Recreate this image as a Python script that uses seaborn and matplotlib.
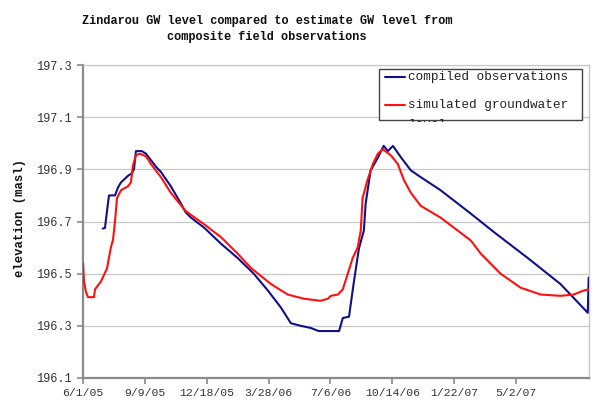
import matplotlib
matplotlib.use("Agg")
import matplotlib.pyplot as plt
from matplotlib.patches import Rectangle
from matplotlib.lines import Line2D
from matplotlib.transforms import Bbox
import seaborn as sns
import pandas as pd

# ---- data ----
start_date = "2005-06-01"

obs_day = [32, 35.5, 38.8, 42, 51.7, 56.5, 61.4, 72.7, 79, 82.4, 85.6, 95, 101.8, 109.9,
           118, 126, 142, 158, 166, 174.5, 195.5, 223, 250, 276, 299, 320, 336, 352, 368,
           381, 414, 420, 430, 438, 446, 454, 457, 465, 477, 486, 493, 501, 514, 530, 546,
           578, 627, 664, 719, 772, 816, 817.5]
obs_level = [196.673, 196.675, 196.74, 196.80, 196.80, 196.83, 196.85, 196.875, 196.885,
             196.90, 196.97, 196.97, 196.96, 196.935, 196.91, 196.89, 196.835, 196.77,
             196.735, 196.715, 196.677, 196.615, 196.56, 196.50, 196.435, 196.37, 196.31,
             196.30, 196.292, 196.28, 196.28, 196.33, 196.335, 196.47, 196.596, 196.665,
             196.77, 196.896, 196.946, 196.99, 196.97, 196.99, 196.946, 196.896, 196.87,
             196.82, 196.73, 196.66, 196.56, 196.46, 196.35, 196.485]

sim_day = [0, 1.6, 4.8, 8, 17.8, 19.4, 29, 38.8, 45, 48.5, 51.7, 55, 61.4, 72.7, 77.5, 80.8,
           85.6, 92, 101.8, 110, 126, 142, 166, 195.5, 223, 250, 271, 304, 331, 357, 384,
           396, 400.6, 412, 420, 428, 436, 444, 449, 452, 460, 468.5, 476.6, 484.6, 497.6,
           509, 518.6, 530, 546, 578, 606, 627, 643, 675, 707.6, 740, 772, 793, 809, 817.5]
sim_level = [196.54, 196.47, 196.43, 196.41, 196.41, 196.44, 196.47, 196.52, 196.60, 196.63,
             196.70, 196.79, 196.82, 196.835, 196.85, 196.915, 196.954, 196.96, 196.95,
             196.92, 196.87, 196.81, 196.74, 196.69, 196.64, 196.577, 196.523, 196.46,
             196.42, 196.404, 196.396, 196.404, 196.415, 196.42, 196.44, 196.50, 196.56,
             196.60, 196.665, 196.79, 196.86, 196.92, 196.96, 196.977, 196.954, 196.92,
             196.86, 196.81, 196.76, 196.715, 196.665, 196.627, 196.577, 196.50, 196.446,
             196.42, 196.415, 196.42, 196.435, 196.44]

x_tick_labels = ["6/1/05", "9/9/05", "12/18/05", "3/28/06", "7/6/06", "10/14/06",
                 "1/22/07", "5/2/07"]
y_ticks = [196.1, 196.3, 196.5, 196.7, 196.9, 197.1, 197.3]

title = "Zindarou GW level compared to estimate GW level from\ncomposite field observations"
y_label = "elevation (masl)"
series_names = ["compiled observations", "simulated groundwater", "level"]

# ---- styling ----
sns.set_theme(style="white")
plt.rcParams["font.family"] = ["Liberation Mono", "DejaVu Sans"]

W, H = 600, 407
fig = plt.figure(figsize=(W / 100, H / 100), dpi=100)
fig.patch.set_facecolor("white")


def fx(x):
    return x / W


def fy(y):
    return 1 - y / H


ax = fig.add_axes([fx(83), fy(378), fx(589) - fx(83), fy(65) - fy(378)])

t0 = pd.Timestamp(start_date)
obs = pd.DataFrame({"date": t0 + pd.to_timedelta(obs_day, unit="D"), "level": obs_level})
sim = pd.DataFrame({"date": t0 + pd.to_timedelta(sim_day, unit="D"), "level": sim_level})

sns.lineplot(data=obs, x="date", y="level", ax=ax, color="#10108a", lw=1.5,
             estimator=None, sort=False, zorder=3)
sns.lineplot(data=sim, x="date", y="level", ax=ax, color="#ff1010", lw=1.5,
             estimator=None, sort=False, zorder=4)

ax.set_xlim(t0, t0 + pd.Timedelta(days=818))
ax.set_ylim(196.1, 197.3)
ax.set_xticks([t0 + pd.Timedelta(days=100 * i) for i in range(len(x_tick_labels))])
ax.set_xticklabels(x_tick_labels)
ax.set_yticks(y_ticks)
ax.set_yticklabels([f"{v:.1f}" for v in y_ticks])
ax.set_xlabel("")
ax.set_ylabel("")

ax.grid(axis="y", color="#c8c8c8", lw=0.9)
ax.grid(axis="x", visible=False)
ax.set_axisbelow(True)

for s in ["left", "bottom"]:
    ax.spines[s].set_color("#8a8a8a")
    ax.spines[s].set_linewidth(1.6)
ax.spines["right"].set_color("#c8c8c8")
ax.spines["right"].set_linewidth(1.0)
ax.spines["top"].set_color("#c8c8c8")
ax.spines["top"].set_linewidth(0.9)

ax.tick_params(axis="y", which="major", left=True, length=4, width=1.2, color="#8a8a8a",
               pad=4, labelsize=8.6, labelcolor="#333333")
ax.tick_params(axis="x", which="major", bottom=True, length=4, width=1.2, color="#8a8a8a",
               pad=3, labelsize=8.2, labelcolor="#333333")

fig.text(fx(267), fy(29), title, ha="center", va="center", fontsize=8.6,
         fontweight="bold", linespacing=1.5, color="#111111")
fig.text(fx(20), fy(218), y_label, ha="center", va="center", rotation=90,
         fontsize=8.8, fontweight="bold", color="#111111")

# ---- legend box (clipped like the reference) ----
box = Rectangle((fx(379), fy(120)), fx(582) - fx(379), fy(69) - fy(120),
                transform=fig.transFigure, facecolor="white", edgecolor="#444444",
                lw=1.0, zorder=10)
fig.add_artist(box)
fig.add_artist(Line2D([fx(385), fx(405)], [fy(77), fy(77)], transform=fig.transFigure,
                      color="#10108a", lw=1.5, zorder=11))
fig.add_artist(Line2D([fx(385), fx(405)], [fy(105), fy(105)], transform=fig.transFigure,
                      color="#ff1010", lw=1.5, zorder=11))
fig.text(fx(408), fy(77), series_names[0], ha="left", va="center", fontsize=9.2,
         color="#222222", zorder=12)
fig.text(fx(408), fy(105), series_names[1], ha="left", va="center", fontsize=9.2,
         color="#222222", zorder=12)
lvl = fig.text(fx(408), fy(125), series_names[2], ha="left", va="center", fontsize=9.2,
               color="#222222", zorder=12)
lvl.set_clip_box(Bbox.from_extents(379, H - 122, 582, H - 69))
lvl.set_clip_on(True)

fig.savefig("out.png", dpi=100, facecolor="white")
